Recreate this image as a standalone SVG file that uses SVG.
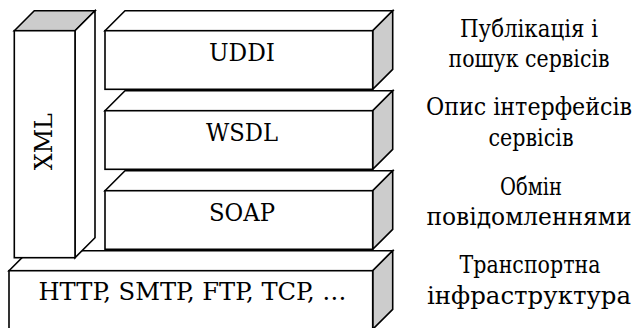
<svg xmlns="http://www.w3.org/2000/svg" width="633" height="328" viewBox="0 0 633 328">
  <style>
    .edge { stroke: #000; stroke-width: 1.6; stroke-linejoin: miter; }
    .front { fill: #fff; }
    .top { fill: #fff; }
    .side { fill: #cccccc; }
    .xml-top { fill: #cccccc; }
    .xml-side { fill: #fff; }
    .lbl { text-anchor: middle; }
    text { font-family: "DejaVu Serif Condensed", "DejaVu Serif", serif; font-size: 24px; fill: #000; }
  </style>

  <rect x="0" y="0" width="633" height="328" fill="#fff"/>

  <!-- transport layer (base slab) -->
  <g id="transport">
    <polygon class="top edge" points="9,270.7 29,250.7 392.7,250.7 372.7,270.7"/>
    <polygon class="side edge" points="372.7,270.7 392.7,250.7 392.7,309.3 372.7,329.3"/>
    <rect class="front edge" x="9" y="270.7" width="363.7" height="58.6"/>
    <text class="lbl" x="192.5" y="300" textLength="308" lengthAdjust="spacingAndGlyphs">HTTP, SMTP, FTP, TCP, …</text>
  </g>

  <!-- XML column -->
  <g id="xml">
    <polygon class="xml-top edge" points="14.3,30.7 34.3,10.7 95,10.7 75,30.7"/>
    <polygon class="xml-side edge" points="75,30.7 95,10.7 95,237.7 75,257.7"/>
    <rect class="front edge" x="14.3" y="30.7" width="60.7" height="227"/>
    <text class="lbl" transform="translate(52,141.7) rotate(-90)" textLength="57" lengthAdjust="spacingAndGlyphs">XML</text>
  </g>

  <!-- SOAP -->
  <g id="soap">
    <polygon class="top edge" points="105,190.7 125,170.7 392.7,170.7 372.7,190.7"/>
    <polygon class="side edge" points="372.7,190.7 392.7,170.7 392.7,229.3 372.7,249.3"/>
    <rect class="front edge" x="105" y="190.7" width="267.7" height="58.6"/>
    <text class="lbl" x="242" y="220.5" textLength="66" lengthAdjust="spacingAndGlyphs">SOAP</text>
  </g>

  <!-- WSDL -->
  <g id="wsdl">
    <polygon class="top edge" points="105,110.7 125,90.7 392.7,90.7 372.7,110.7"/>
    <polygon class="side edge" points="372.7,110.7 392.7,90.7 392.7,149.3 372.7,169.3"/>
    <rect class="front edge" x="105" y="110.7" width="267.7" height="58.6"/>
    <text class="lbl" x="242" y="140.5" textLength="72" lengthAdjust="spacingAndGlyphs">WSDL</text>
  </g>

  <!-- UDDI -->
  <g id="uddi">
    <polygon class="top edge" points="105,30.7 125,10.7 392.7,10.7 372.7,30.7"/>
    <polygon class="side edge" points="372.7,30.7 392.7,10.7 392.7,69.3 372.7,89.3"/>
    <rect class="front edge" x="105" y="30.7" width="267.7" height="58.6"/>
    <text class="lbl" x="242" y="60.5" textLength="66" lengthAdjust="spacingAndGlyphs">UDDI</text>
  </g>

  <!-- layer descriptions -->
  <g id="descriptions">
    <text class="lbl" x="529" y="37" textLength="138" lengthAdjust="spacingAndGlyphs">Публікація і</text>
    <text class="lbl" x="529" y="67" textLength="161" lengthAdjust="spacingAndGlyphs">пошук сервісів</text>
    <text class="lbl" x="529" y="115" textLength="206" lengthAdjust="spacingAndGlyphs">Опис інтерфейсів</text>
    <text class="lbl" x="531" y="146" textLength="85" lengthAdjust="spacingAndGlyphs">сервісів</text>
    <text class="lbl" x="531" y="195" textLength="62" lengthAdjust="spacingAndGlyphs">Обмін</text>
    <text class="lbl" x="529" y="225" textLength="205" lengthAdjust="spacingAndGlyphs">повідомленнями</text>
    <text class="lbl" x="530" y="273" textLength="141" lengthAdjust="spacingAndGlyphs">Транспортна</text>
    <text class="lbl" x="529" y="304" textLength="204" lengthAdjust="spacingAndGlyphs">інфраструктура</text>
  </g>

  <g id="connectors"></g>
</svg>
